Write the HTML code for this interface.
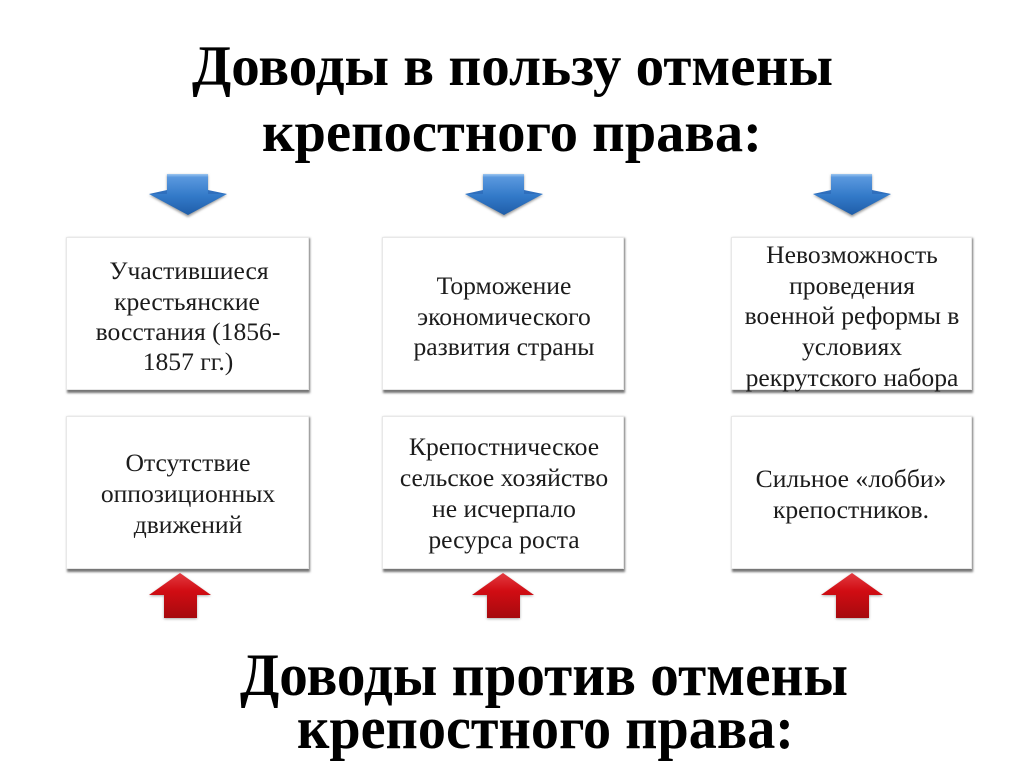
<!DOCTYPE html>
<html><head><meta charset="utf-8"><style>
html,body{margin:0;padding:0;background:#fff;width:1024px;height:767px;overflow:hidden}
svg{display:block}
.t{font-family:"Liberation Serif",serif;font-weight:bold;font-size:57px;fill:#000;text-anchor:start}
.u{font-size:60px}
.b{font-family:"Liberation Serif",serif;font-size:25.6px;fill:#1c1c1c;text-anchor:middle}
</style></head><body>
<svg width="1024" height="767" viewBox="0 0 1024 767" xmlns="http://www.w3.org/2000/svg">
<defs>
<linearGradient id="bl" x1="0" y1="0" x2="0" y2="1"><stop offset="0" stop-color="#9cc6f0"/><stop offset=".08" stop-color="#5a98de"/><stop offset=".55" stop-color="#3279c8"/><stop offset="1" stop-color="#1f5da8"/></linearGradient>
<linearGradient id="rd" x1="0" y1="0" x2="0" y2="1"><stop offset="0" stop-color="#e23a40"/><stop offset=".4" stop-color="#d10c13"/><stop offset="1" stop-color="#a60a0e"/></linearGradient>
<filter id="s" x="-10%" y="-10%" width="125%" height="125%"><feGaussianBlur stdDeviation="1"/></filter>
<filter id="a" x="-10%" y="-10%" width="120%" height="125%"><feGaussianBlur stdDeviation="1.2"/></filter>
<g id="down"><path d="M18 1H59V21H78L39 43L0 21H18Z" fill="#9a9a9a" filter="url(#a)"/><path d="M18 0H59V20H78L39 41L0 20H18Z" fill="url(#bl)"/><path d="M0 20H18V16ZM78 20H59V16Z" fill="#2f6fbd"/></g>
<g id="up"><path d="M31 1L62 23H48V46H15V23H0Z" fill="#aaa" filter="url(#a)"/><path d="M31 0L62 22H48V45H15V22H0Z" fill="url(#rd)"/></g>
</defs>
<text class="t" x="192" y="85" textLength="641" lengthAdjust="spacingAndGlyphs">Доводы в пользу отмены</text>
<text class="t" x="262" y="151" textLength="500" lengthAdjust="spacingAndGlyphs">крепостного права:</text>
<use href="#down" x="149" y="174"/><use href="#down" x="465" y="174"/><use href="#down" x="813" y="174"/>
<g fill="#757575" filter="url(#s)">
<rect x="67" y="238" width="243" height="155"/><rect x="383" y="238" width="242" height="155"/><rect x="732" y="238" width="241" height="155"/>
<rect x="67" y="417" width="243" height="155"/><rect x="383" y="417" width="242" height="155"/><rect x="732" y="417" width="241" height="155"/>
</g>
<g fill="#fff" stroke="#e8e8e8" stroke-width="1">
<rect x="66.5" y="237.5" width="242" height="152"/><rect x="382.5" y="237.5" width="241" height="152"/><rect x="731.5" y="237.5" width="240" height="152"/>
<rect x="66.5" y="416.5" width="242" height="152"/><rect x="382.5" y="416.5" width="241" height="152"/><rect x="731.5" y="416.5" width="240" height="152"/>
</g>
<text class="b" x="189" y="279">Участившиеся</text>
<text class="b" x="187" y="310">крестьянские</text>
<text class="b" x="188" y="340">восстания (1856-</text>
<text class="b" x="188" y="370">1857 гг.)</text>
<text class="b" x="504" y="294">Торможение</text>
<text class="b" x="504" y="325">экономического</text>
<text class="b" x="504" y="355">развития страны</text>
<text class="b" x="852" y="263">Невозможность</text>
<text class="b" x="852" y="294">проведения</text>
<text class="b" x="852" y="324">военной реформы в</text>
<text class="b" x="852" y="355">условиях</text>
<text class="b" x="852" y="386">рекрутского набора</text>
<text class="b" x="188" y="471">Отсутствие</text>
<text class="b" x="188" y="502">оппозиционных</text>
<text class="b" x="188" y="533">движений</text>
<text class="b" x="504" y="455">Крепостническое</text>
<text class="b" x="504" y="486">сельское хозяйство</text>
<text class="b" x="504" y="517">не исчерпало</text>
<text class="b" x="504" y="548">ресурса роста</text>
<text class="b" x="851" y="487">Сильное «лобби»</text>
<text class="b" x="851" y="518">крепостников.</text>
<use href="#up" x="149" y="573"/><use href="#up" x="472" y="573"/><use href="#up" x="821" y="573"/>
<text class="t u" x="240" y="695" textLength="608" lengthAdjust="spacingAndGlyphs">Доводы против отмены</text>
<text class="t u" x="297" y="748" textLength="497" lengthAdjust="spacingAndGlyphs">крепостного права:</text>
</svg>
</body></html>
